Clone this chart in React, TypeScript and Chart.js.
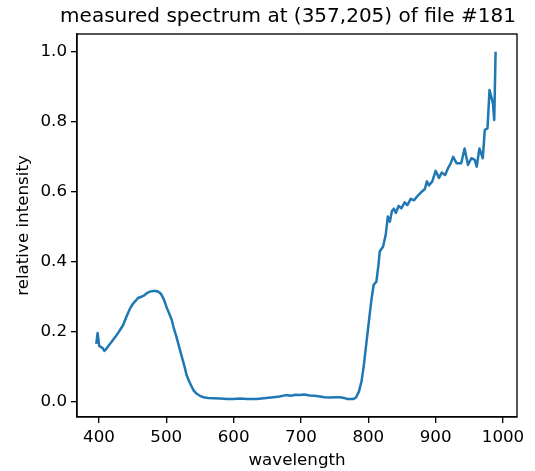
import React, { useEffect, useRef } from "react";
import { Chart, registerables } from "chart.js";

Chart.register(...registerables);

const titleText = "measured spectrum at (357,205) of file #181";
const xLabel = "wavelength";
const yLabel = "relative intensity";

const xTicks = [400, 500, 600, 700, 800, 900, 1000];
const yTicks = [0.0, 0.2, 0.4, 0.6, 0.8, 1.0];

const wavelengths = [
  396, 398, 400.5, 405.5, 408, 411, 414, 418, 421, 425, 429, 432, 436, 440, 444, 447, 451, 455, 458,
  462, 466, 470, 473, 477, 481, 485, 488, 491, 493, 497, 500, 504, 508, 511, 515, 519, 523, 527, 530,
  534, 538, 541, 545, 550, 555, 562, 570, 580, 590, 600, 609, 620, 634, 645, 659, 668, 678, 685, 692,
  698, 705, 713, 720, 728, 735, 743, 750, 758, 764, 768, 773, 778, 782, 786, 790, 793, 796, 800, 804.6,
  808, 812, 815, 817, 822, 826, 829, 832, 835, 838, 841, 845, 849, 854, 858, 863, 868, 873, 878, 884,
  887, 890, 895, 900, 905, 909, 914, 919, 922, 926, 931, 938, 943, 948, 953, 958, 961, 965, 970, 973,
  977, 980, 985, 987, 989,
];

const intensities = [
  0.166, 0.197, 0.16, 0.154, 0.146, 0.152, 0.16, 0.17, 0.178, 0.188, 0.199, 0.208, 0.22, 0.24, 0.258,
  0.27, 0.282, 0.29, 0.297, 0.3, 0.303, 0.309, 0.313, 0.316, 0.317, 0.317, 0.315, 0.311, 0.306, 0.29,
  0.273, 0.254, 0.235, 0.212, 0.187, 0.158, 0.13, 0.102, 0.078, 0.059, 0.043, 0.032, 0.024, 0.018,
  0.014, 0.012, 0.011, 0.01, 0.009, 0.009, 0.01, 0.009, 0.009, 0.011, 0.014, 0.016, 0.02, 0.018, 0.021,
  0.02, 0.022, 0.019, 0.018, 0.016, 0.014, 0.013, 0.014, 0.014, 0.012, 0.009, 0.009, 0.009, 0.014,
  0.03, 0.06, 0.1, 0.15, 0.216, 0.292, 0.335, 0.344, 0.39, 0.43, 0.444, 0.48, 0.53, 0.515, 0.545,
  0.552, 0.54, 0.56, 0.553, 0.57, 0.562, 0.58, 0.576, 0.588, 0.598, 0.608, 0.63, 0.618, 0.63, 0.66,
  0.64, 0.655, 0.648, 0.67, 0.68, 0.7, 0.682, 0.682, 0.724, 0.677, 0.696, 0.691, 0.672, 0.724, 0.696,
  0.777, 0.781, 0.891, 0.853, 0.805, 1.0,
];

const FONT = "'DejaVu Sans', sans-serif";

const framePlugin = {
  id: "mplFrame",
  afterDraw(chart: any) {
    const { ctx, chartArea } = chart;
    const { left, right, top, bottom } = chartArea;
    ctx.save();
    ctx.strokeStyle = "#000";
    ctx.lineWidth = 1.33;
    ctx.strokeRect(left, top, right - left, bottom - top);
    ctx.fillStyle = "#000";
    ctx.font = `20px ${FONT}`;
    ctx.textAlign = "center";
    ctx.textBaseline = "alphabetic";
    ctx.fillText(titleText, (left + right) / 2 - 9, 22);
    ctx.font = `16.7px ${FONT}`;
    ctx.fillText(xLabel, (left + right) / 2, 465);
    ctx.translate(28, (top + bottom) / 2);
    ctx.rotate(-Math.PI / 2);
    ctx.fillText(yLabel, 0, 0);
    ctx.restore();
  },
};

export default function App() {
  const ref = useRef<HTMLCanvasElement | null>(null);
  useEffect(() => {
    if (!ref.current) return;
    const points = wavelengths.map((w, i) => ({ x: w, y: intensities[i] }));
    const tickFont = { family: FONT, size: 16.7 };
    const chart = new Chart(ref.current, {
      type: "line",
      data: {
        datasets: [
          {
            data: points,
            borderColor: "#1f77b4",
            borderWidth: 2.5,
            pointRadius: 0,
            tension: 0,
            fill: false,
            borderJoinStyle: "round",
            borderCapStyle: "butt",
          },
        ],
      },
      options: {
        animation: false,
        responsive: false,
        devicePixelRatio: 1,
        layout: { padding: { top: 34, right: 18, left: 0, bottom: 0 } },
        plugins: { legend: { display: false }, tooltip: { enabled: false }, title: { display: false } },
        scales: {
          x: {
            type: "linear",
            min: 367.4,
            max: 1020.8,
            afterBuildTicks: (s: any) => {
              s.ticks = xTicks.map((v) => ({ value: v }));
            },
            afterFit: (s: any) => {
              s.height = 54;
              s.paddingLeft = 0;
              s.paddingRight = 0;
            },
            ticks: {
              font: tickFont,
              color: "#000",
              padding: 5,
              maxRotation: 0,
              autoSkip: false,
              callback: (v: any) => String(v),
            },
            grid: { display: true, drawOnChartArea: false, drawTicks: true, tickLength: 6, color: "#000", lineWidth: 1.33 },
            border: { display: true, color: "#000", width: 1.33 },
          },
          y: {
            type: "linear",
            min: -0.0425,
            max: 1.0505,
            afterBuildTicks: (s: any) => {
              s.ticks = yTicks.map((v) => ({ value: v }));
            },
            afterFit: (s: any) => {
              s.width = 77;
              s.paddingTop = 0;
              s.paddingBottom = 0;
            },
            ticks: {
              font: tickFont,
              color: "#000",
              padding: 4,
              autoSkip: false,
              callback: (v: any) => Number(v).toFixed(1),
            },
            grid: { display: true, drawOnChartArea: false, drawTicks: true, tickLength: 6, color: "#000", lineWidth: 1.33 },
            border: { display: true, color: "#000", width: 1.33 },
          },
        },
      },
      plugins: [framePlugin],
    });
    return () => chart.destroy();
  }, []);
  return (
    <div style={{ position: "absolute", left: 0, top: 0, width: 535, height: 471, background: "#fff" }}>
      <canvas ref={ref} width={535} height={471} style={{ display: "block" }} />
    </div>
  );
}
